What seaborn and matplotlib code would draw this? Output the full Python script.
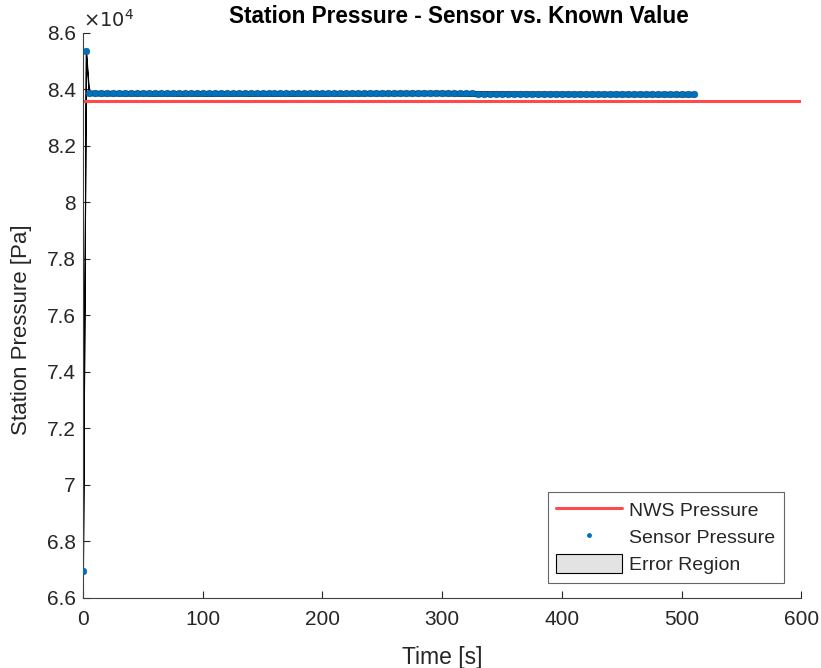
import numpy as np
import pandas as pd
import seaborn as sns
import matplotlib.pyplot as plt
from matplotlib.ticker import FuncFormatter
from matplotlib.lines import Line2D
from matplotlib.patches import Patch

sns.set_style("white")
plt.rcParams['font.family'] = ['Liberation Sans', 'DejaVu Sans']

# known value from NWS
nws_time = [0, 600]
nws_pressure = [83600, 83600]

# sensor readings (time in s, pressure in Pa)
sensor_time = [0, 2.5] + list(range(5, 511, 5))
sensor_pressure = [
    66950, 85350,
    83870, 83865, 83860, 83862, 83858, 83860, 83855, 83858, 83856, 83860,
    83855, 83852, 83858, 83854, 83856, 83850, 83853, 83857, 83852, 83855,
    83850, 83854, 83852, 83856, 83851, 83855, 83853, 83850, 83855, 83852,
    83854, 83850, 83856, 83853, 83851, 83855, 83852, 83856, 83854, 83851,
    83855, 83858, 83853, 83857, 83860, 83856, 83859, 83862, 83858, 83861,
    83863, 83860, 83865, 83862, 83866, 83863, 83867, 83864, 83868, 83865,
    83862, 83858, 83855, 83852, 83850, 83848, 83849, 83846, 83847, 83844,
    83845, 83842, 83844, 83841, 83842, 83839, 83841, 83838, 83840, 83837,
    83838, 83835, 83837, 83834, 83836, 83833, 83835, 83832, 83834, 83831,
    83833, 83830, 83832, 83829, 83831, 83828, 83830, 83827, 83829, 83826,
    83828, 83827,
]
sensor_error = 80  # Pa, half width of error band

df = pd.DataFrame({"Time": sensor_time, "Pressure": sensor_pressure})
nws = pd.DataFrame({"Time": nws_time, "Pressure": nws_pressure})

red = "#ff4a4a"
blue = "#0072bd"
axis_col = "#262626"

fig = plt.figure(figsize=(8.21, 6.68), dpi=100)
ax = fig.add_axes([0.101, 0.105, 0.875, 0.846])

ax.fill_between(df["Time"], df["Pressure"] - sensor_error, df["Pressure"] + sensor_error,
                facecolor="#e3e3e3", edgecolor="black", linewidth=0.8, zorder=1)
sns.lineplot(data=nws, x="Time", y="Pressure", color=red, linewidth=2.2, ax=ax, zorder=2)
sns.scatterplot(data=df, x="Time", y="Pressure", color=blue, s=24, linewidth=0.3,
                edgecolor="#0a4f85", ax=ax, zorder=3)

ax.set_xlim(0, 600)
ax.set_ylim(66000, 86000)
ax.set_xticks(range(0, 601, 100))
ax.set_yticks(np.arange(66000, 86001, 2000))
ax.yaxis.set_major_formatter(FuncFormatter(lambda v, p: "%g" % round(v / 1e4, 2)))
ax.text(0.0, 1.004, r"$\times10^4$", transform=ax.transAxes, fontsize=14,
        color=axis_col, ha="left", va="bottom")

ax.set_xlabel("Time [s]", fontsize=16.5, color=axis_col)
ax.set_ylabel("Station Pressure [Pa]", fontsize=16, color=axis_col)
ax.xaxis.set_label_coords(0.5, -0.086)
ax.yaxis.set_label_coords(-0.071, 0.474)
ax.text(0.523, 1.008, "Station Pressure - Sensor vs. Known Value", transform=ax.transAxes,
        fontsize=16.3, fontweight="bold", color="black", ha="center", va="bottom")

for s in ["top", "right"]:
    ax.spines[s].set_visible(False)
for s in ["left", "bottom"]:
    ax.spines[s].set_color("#404040")
    ax.spines[s].set_linewidth(0.8)
ax.tick_params(direction="in", length=5, width=0.8, colors=axis_col,
               labelsize=15, left=True, bottom=True, pad=5)
ax.tick_params(axis="x", pad=9)

handles = [
    Line2D([0], [0], color=red, linewidth=2.2),
    Line2D([0], [0], marker=".", color=blue, linestyle="none", markersize=5),
    Patch(facecolor="#e3e3e3", edgecolor="black", linewidth=0.8),
]
labels = ["NWS Pressure", "Sensor Pressure", "Error Region"]
leg = ax.legend(handles, labels, loc="lower right", fontsize=14, frameon=True,
                fancybox=False, borderpad=0.45, labelspacing=0.38, handleheight=1.05,
                handlelength=3.4, handletextpad=0.35, borderaxespad=0,
                bbox_to_anchor=(0.976, 0.0265))
leg.get_frame().set_edgecolor("#404040")
leg.get_frame().set_linewidth(0.8)

fig.savefig("out.png", dpi=100)
